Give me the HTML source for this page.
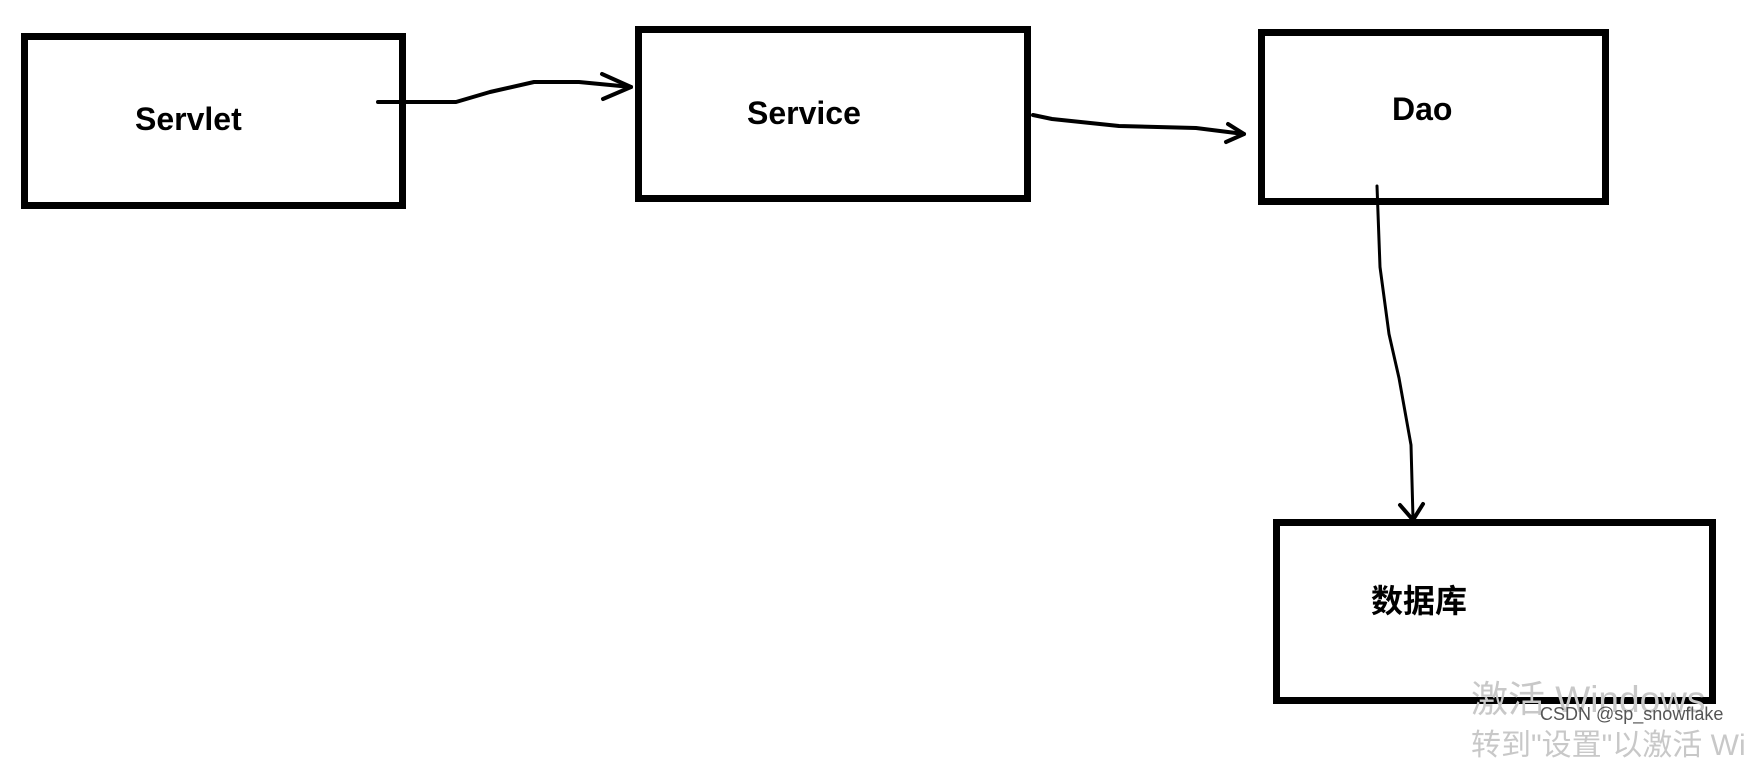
<!DOCTYPE html>
<html><head><meta charset="utf-8"><style>
body{margin:0;width:1745px;height:736px;background:#fff;overflow:hidden;position:relative;font-family:"Liberation Sans","Noto Sans CJK SC",sans-serif}
.b{position:absolute;border:7px solid #000;box-sizing:border-box}
.t{position:absolute;font-weight:bold;font-size:32px;color:#000;line-height:1}
.w{position:absolute;color:#c8c8c8;font-size:37px;line-height:1;white-space:nowrap}
</style></head><body>
<div class="b" style="left:21px;top:33px;width:385px;height:176px"></div>
<div class="b" style="left:635px;top:26px;width:396px;height:176px"></div>
<div class="b" style="left:1258px;top:29px;width:351px;height:176px"></div>
<div class="b" style="left:1273px;top:519px;width:443px;height:185px"></div>
<div class="t" style="left:135px;top:103px">Servlet</div>
<div class="t" style="left:747px;top:97px">Service</div>
<div class="t" style="left:1392px;top:93px">Dao</div>
<div class="t" style="left:1371px;top:585px;font-size:32px">数据库</div>
<div class="w" style="left:1471px;top:681px">激活 Windows</div>
<div class="w" style="left:1471px;top:731px;font-size:30px">转到"设置"以激活 Windows</div>
<div style="position:absolute;left:1540px;top:704px;font-size:18px;color:#555">CSDN @sp_snowflake</div>
<svg width="1745" height="736" style="position:absolute;left:0;top:0" fill="none" stroke="#000" stroke-width="4" stroke-linejoin="round" stroke-linecap="round">
<path d="M378 102 L456 102 L490 92 L534 82 L579 82 L631 87"/>
<path d="M602 74 L631 87 L603 99"/>
<path d="M1033 115 L1052 119 L1119 126 L1196 128 L1244 134"/>
<path d="M1228 124 L1244 134 L1226 142"/>
<path d="M1377 186 L1380 267 L1389 334 L1399 378 L1411 445 L1413 518" stroke-width="3"/>
<path d="M1400 505 L1413 520 L1423 504"/>
</svg>
</body></html>
